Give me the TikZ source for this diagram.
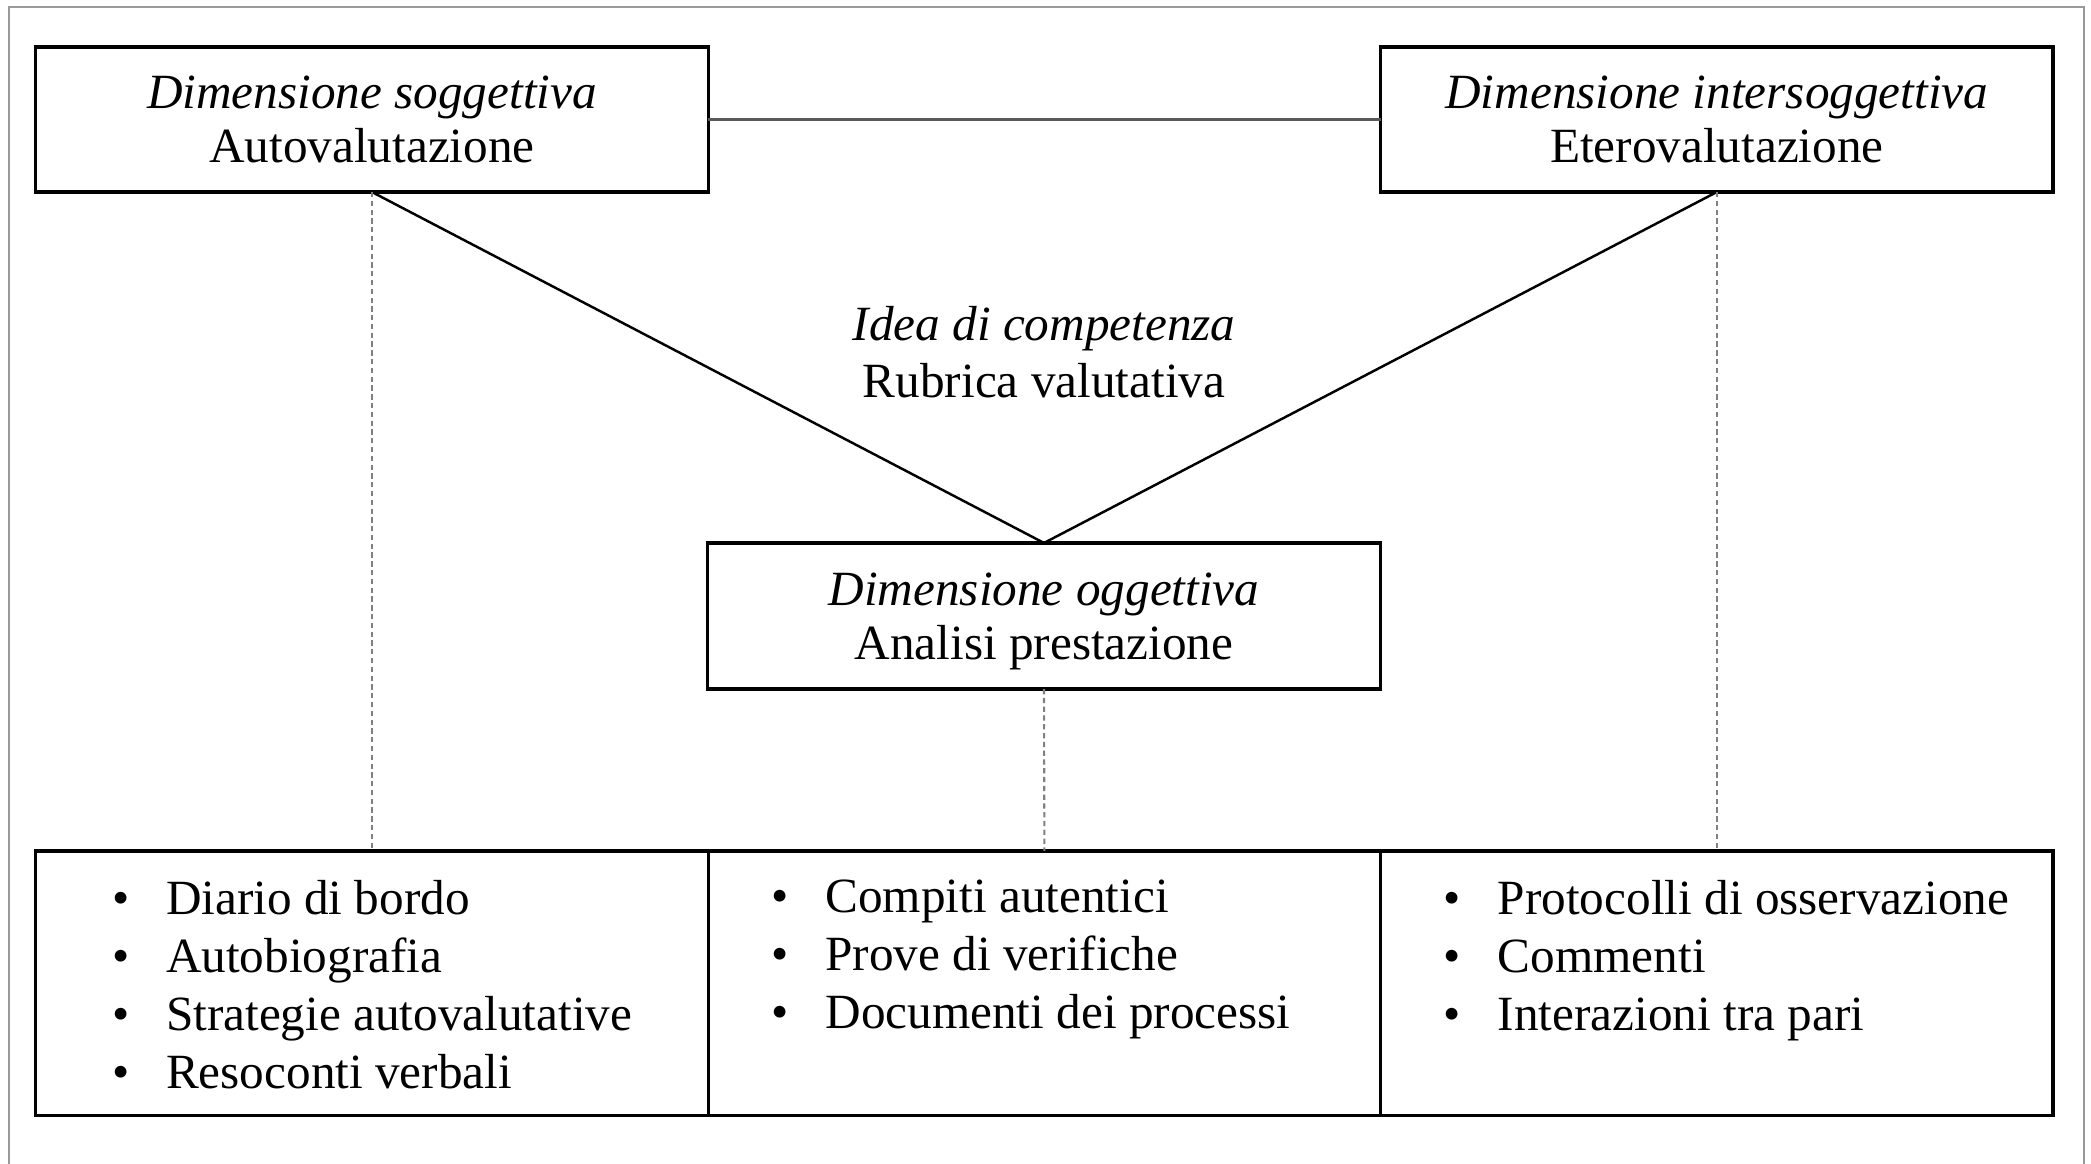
\documentclass[tikz,border=0pt]{standalone}
\usepackage{fontspec}
\setmainfont{Liberation Serif}
\usetikzlibrary{positioning}

\newcommand{\itm}[1]{\makebox[0.54cm][l]{\textbullet}#1}

\begin{document}
\begin{tikzpicture}[x=0.01cm,y=-0.01cm,line width=0.7pt,font=\fontsize{14}{15.4}\selectfont,
    dim box/.style={rectangle,draw,line width=0.9pt,minimum width=6.72cm,minimum height=1.45cm,inner sep=0pt,outer sep=0pt,align=center,text depth=0pt},
    list box/.style={rectangle,draw,line width=0.9pt,minimum width=6.72cm,minimum height=2.64cm,inner sep=0pt,outer sep=0pt},
    list text/.style={inner sep=0pt,align=left,font=\fontsize{14}{16.5}\selectfont},
    dot line/.style={gray,line width=0.6pt,dash pattern=on 1.5pt off 1pt}]
            \useasboundingbox (0,0) rectangle (2091,1164);
            \draw[gray!80,line width=0.6pt] (9,1164) |- (2084,7) -- (2084,1164);

            \node[dim box] (sog) at (372,119.5) {\textit{Dimensione soggettiva}\\Autovalutazione};
            \node[dim box] (inter) [right=6.72cm of sog] {\textit{Dimensione intersoggettiva}\\Eterovalutazione};
            \node[dim box,minimum height=1.46cm] (ogg) at (1044,616) {\textit{Dimensione oggettiva}\\Analisi prestazione};
            \node[align=center,font=\fontsize{14}{16.2}\selectfont] (idea) at (1044,352) {\textit{Idea di competenza}\\Rubrica valutativa};

            \node[list box] (l1) at (372,983) {};
            \node[list box] (l2) [right=0pt of l1] {};
            \node[list box] (l3) [right=0pt of l2] {};

            \node[list text] (t1) [below right=0.28cm and 0.75cm of l1.north west] {\itm{Diario di bordo}\\\itm{Autobiografia}\\\itm{Strategie autovalutative}\\\itm{Resoconti verbali}};
            \node[list text] (t2) [below right=0.28cm and 0.62cm of l2.north west] {\itm{Compiti autentici}\\\itm{Prove di verifiche}\\\itm{Documenti dei processi}};
            \node[list text] (t3) [below right=0.28cm and 0.62cm of l3.north west] {\itm{Protocolli di osservazione}\\\itm{Commenti}\\\itm{Interazioni tra pari}};

            \path
                (sog) edge [gray!70!black,line width=0.9pt] (inter)
                (sog.south) edge (ogg.north)
                (inter.south) edge (ogg.north)
                (sog.south) edge [dot line] (l1.north)
                (ogg.south) edge [dot line] (l2.north)
                (inter.south) edge [dot line] (l3.north)
                ;
        \end{tikzpicture}
\end{document}
